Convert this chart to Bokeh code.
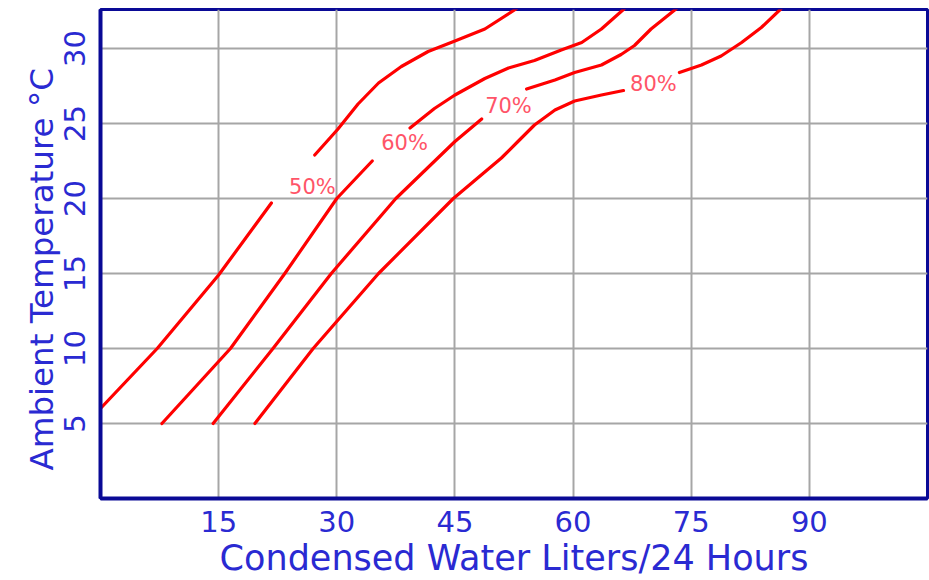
from bokeh.plotting import figure
from bokeh.models import FixedTicker, Range1d, Title
from bokeh.core.properties import value
from bokeh.embed import file_html
from bokeh.resources import INLINE

# ---- data ----
x_ticks = [15, 30, 45, 60, 75, 90]
y_ticks = [5, 10, 15, 20, 25, 30]
x_title = "Condensed Water Liters/24 Hours"
y_title = "Ambient Temperature °C"

rh50_lower_x = [0, 7.2, 15, 21.7]
rh50_lower_y = [6.0, 10, 14.9, 19.7]
rh50_upper_x = [27.2, 30.1, 32.7, 35.3, 38.2, 41.6, 45.0, 48.8, 52.8]
rh50_upper_y = [22.9, 24.6, 26.3, 27.7, 28.8, 29.8, 30.5, 31.3, 32.65]

rh60_lower_x = [7.8, 16.5, 23.4, 30.0, 34.5]
rh60_lower_y = [5, 10, 15, 20, 22.5]
rh60_upper_x = [39.3, 42.4, 45.0, 48.8, 51.8, 55.1, 58.5, 61.1, 63.6, 66.5]
rh60_upper_y = [24.7, 26.0, 26.9, 28.0, 28.7, 29.2, 29.9, 30.4, 31.3, 32.65]

rh70_lower_x = [14.3, 21.9, 29.3, 37.5, 45.0, 48.4]
rh70_lower_y = [5, 10, 15, 20, 23.8, 25.3]
rh70_upper_x = [54.1, 57.7, 60.2, 63.6, 66.1, 67.8, 69.9, 73.1]
rh70_upper_y = [27.3, 27.9, 28.4, 28.9, 29.6, 30.2, 31.3, 32.65]

rh80_lower_x = [19.6, 27.0, 35.3, 44.8, 50.9, 53.0, 55.1, 57.7, 60.2, 63.6, 66.4]
rh80_lower_y = [5, 10, 15, 20, 22.7, 23.8, 24.9, 25.9, 26.5, 26.9, 27.2]
rh80_upper_x = [73.5, 76.3, 78.8, 81.4, 83.9, 86.4]
rh80_upper_y = [28.4, 28.9, 29.5, 30.4, 31.4, 32.65]

label_text = ["50%", "60%", "70%", "80%"]
label_x = [26.9, 38.6, 51.8, 70.2]
label_y = [20.8, 23.7, 26.2, 27.65]

# ---- styling ----
FONT = "DejaVu Sans"
TEXT_BLUE = "#2a2ad2"
AXIS_BLUE = "#0a0a96"
CURVE_RED = "#ff0000"
LABEL_RED = "#ff5468"

p = figure(width=929, height=580, output_backend="svg", toolbar_location=None,
           x_range=Range1d(0, 105), y_range=Range1d(0, 32.6),
           min_border_left=100, min_border_right=2, min_border_top=9,
           min_border_bottom=82)

p.outline_line_color = AXIS_BLUE
p.outline_line_width = 3
p.background_fill_color = "white"
p.border_fill_color = "white"

for ax in (p.xaxis[0], p.yaxis[0]):
    ax.axis_line_color = AXIS_BLUE
    ax.axis_line_width = 4
    ax.major_tick_line_color = None
    ax.minor_tick_line_color = None
    ax.major_tick_in = 0
    ax.major_tick_out = 0
    ax.major_label_text_font = FONT
    ax.major_label_text_color = TEXT_BLUE
    ax.major_label_text_font_size = "29px"
    ax.axis_label_text_font = FONT
    ax.axis_label_text_color = TEXT_BLUE
    ax.axis_label_text_font_style = "normal"

p.xaxis.ticker = FixedTicker(ticks=x_ticks)
p.yaxis.ticker = FixedTicker(ticks=y_ticks)
p.yaxis.major_label_orientation = "vertical"
p.xaxis.major_label_standoff = 12
p.yaxis.major_label_standoff = 16

p.xaxis.axis_label = x_title
p.xaxis.axis_label_text_font_size = "35px"
p.xaxis.axis_label_standoff = 3

# y title as a side title so that it can sit slightly below centre, as in the reference
p.add_layout(Title(text=y_title, align="left", offset=28, standoff=0,
                   text_font=FONT, text_font_size="32.5px",
                   text_font_style="normal", text_color=TEXT_BLUE), "left")

p.xgrid.ticker = FixedTicker(ticks=x_ticks)
p.ygrid.ticker = FixedTicker(ticks=y_ticks)
p.grid.grid_line_color = "#a6a6a6"
p.grid.grid_line_width = 2

segments = [
    (rh50_lower_x, rh50_lower_y), (rh50_upper_x, rh50_upper_y),
    (rh60_lower_x, rh60_lower_y), (rh60_upper_x, rh60_upper_y),
    (rh70_lower_x, rh70_lower_y), (rh70_upper_x, rh70_upper_y),
    (rh80_lower_x, rh80_lower_y), (rh80_upper_x, rh80_upper_y),
]
for xs, ys in segments:
    p.line(xs, ys, line_color=CURVE_RED, line_width=3.2, line_join="round",
           line_cap="round")

p.text(x=label_x, y=label_y, text=label_text,
       text_font=value(FONT), text_font_size="21px", text_color=LABEL_RED,
       text_align="center", text_baseline="middle")

open("out.html", "w").write(file_html(p, INLINE))
